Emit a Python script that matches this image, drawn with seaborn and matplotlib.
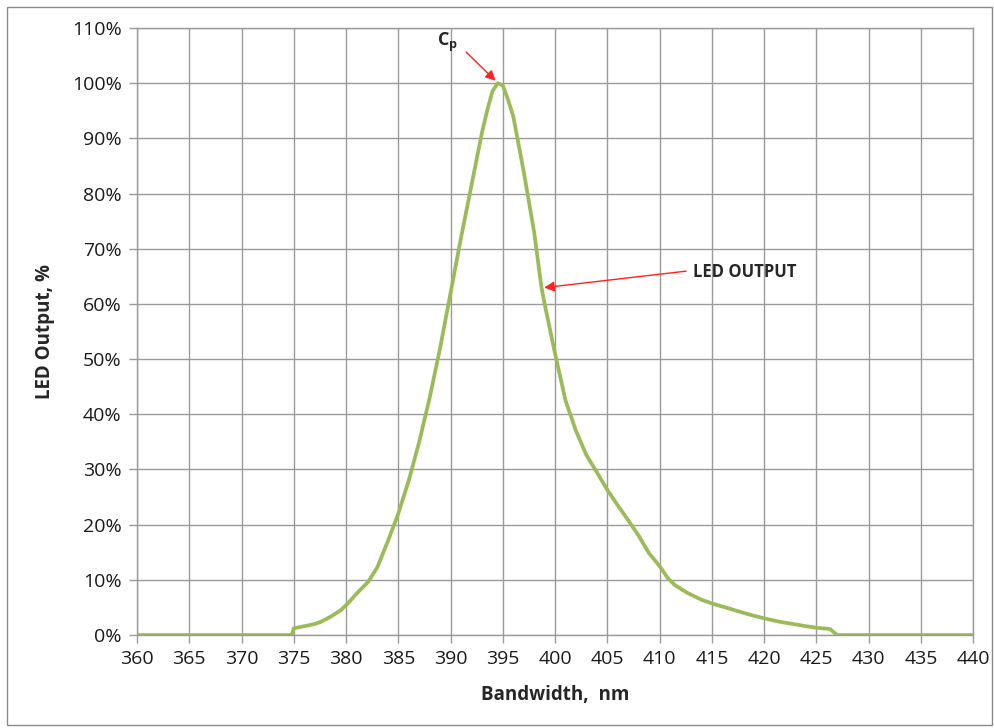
import matplotlib
matplotlib.use("Agg")
import matplotlib.pyplot as plt
import seaborn as sns
import pandas as pd
from matplotlib.ticker import FuncFormatter
from matplotlib.patches import Rectangle

wavelength_nm = [360, 365, 370, 374.8, 375, 376, 377, 377.6, 378.5, 379.5, 380.2, 381, 382.1, 383, 384, 385,
                 386, 387, 388, 389, 390, 391, 392, 393, 393.5, 394, 394.5, 395, 395.5, 396, 397, 398,
                 398.7, 399, 400, 401, 402, 403, 404, 405, 406, 407, 408, 409, 410, 410.8, 411.5, 412.7,
                 414, 415.2, 416.5, 417.7, 419, 420.3, 421.5, 422.8, 424, 425.1, 426.3, 427, 430, 435, 440]
output_pct = [0, 0, 0, 0, 1.2, 1.6, 2.0, 2.4, 3.3, 4.5, 5.8, 7.5, 9.6, 12.3, 17, 22,
              28, 35, 43, 52, 62, 72, 81.5, 91, 95, 98.5, 100, 99.6, 97, 94, 84, 73,
              63, 60, 51, 42.5, 37, 32.6, 29.5, 26.3, 23.5, 20.8, 18, 14.8, 12.5, 10.3, 9.0, 7.6,
              6.4, 5.6, 4.9, 4.2, 3.5, 2.9, 2.4, 2.0, 1.6, 1.3, 1.1, 0, 0, 0, 0]

x_ticks = list(range(360, 441, 5))
y_ticks = list(range(0, 111, 10))

df = pd.DataFrame({"Bandwidth, nm": wavelength_nm, "LED Output, %": output_pct})

sns.set_style("white")
plt.rcParams["font.family"] = ["Open Sans", "DejaVu Sans"]

fig = plt.figure(figsize=(9.95, 7.28), dpi=100)
ax = fig.add_axes([0.1377, 0.1277, 0.8403, 0.8338])

sns.lineplot(data=df, x="Bandwidth, nm", y="LED Output, %", ax=ax, color="#9BBB59", linewidth=2.7)

ax.set_xlim(360, 440)
ax.set_ylim(0, 110)
ax.set_xticks(x_ticks)
ax.set_yticks(y_ticks)
ax.yaxis.set_major_formatter(FuncFormatter(lambda v, p: f"{int(v)}%"))
ax.grid(True, color="#9a9a9a", linewidth=1.0)
ax.set_axisbelow(True)
for s in ax.spines.values():
    s.set_color("#9a9a9a")
    s.set_linewidth(1.0)
ax.tick_params(axis="both", which="major", length=6, width=1.0, color="#9a9a9a",
               labelsize=14, labelcolor="#1a1a1a", direction="out", pad=5)
ax.tick_params(left=True, bottom=True)

ax.set_xlabel("Bandwidth,  nm", fontsize=13.5, fontweight="bold", labelpad=12)
ax.set_ylabel("LED Output, %", fontsize=13.5, fontweight="bold", labelpad=12)

ax.annotate("", xy=(394.5, 100.1), xytext=(391.3, 106.0),
            arrowprops=dict(arrowstyle="-|>", color="#ff2020", lw=1.0, mutation_scale=15))
ax.text(389.7, 107.4, r"C$_\mathregular{p}$", fontsize=13, fontweight="bold", ha="center", va="center")

ax.annotate("", xy=(398.7, 62.9), xytext=(412.8, 66.0),
            arrowprops=dict(arrowstyle="-|>", color="#ff2020", lw=1.0, mutation_scale=15))
ax.text(413.2, 65.8, "LED OUTPUT", fontsize=12, fontweight="bold", ha="left", va="center")

fig.patches.append(Rectangle((0.007, 0.004), 0.99, 0.987, transform=fig.transFigure,
                             fill=False, edgecolor="#8a8a8a", linewidth=1.0))

fig.savefig("out.png", dpi=100)
